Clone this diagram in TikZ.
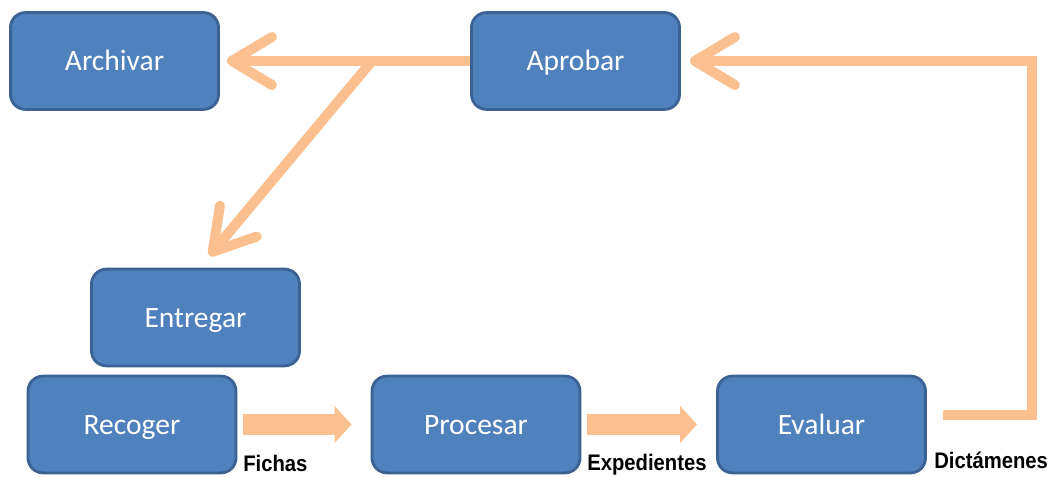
\documentclass[tikz,border=0pt]{standalone}
\usepackage{fontspec}
\setmainfont{Carlito}
\newfontfamily\tagfont[FakeStretch=0.9]{Liberation Sans}
\usetikzlibrary{arrows.meta}
\definecolor{boxblue}{HTML}{4F81BD}
\definecolor{boxedge}{HTML}{3A6294}
\definecolor{peach}{HTML}{FAC090}

\begin{document}
\begin{tikzpicture}[x=0.025cm,y=-0.025cm,
		box/.style={draw=boxedge,line width=2pt,fill=boxblue,rounded corners=0.375cm,minimum width=5.2cm,minimum height=2.42cm,text height=15pt,text depth=1pt,text=white,font=\fontsize{21}{25}\selectfont},
		flow/.style={draw=peach,line width=0.25cm,-{Straight Barb[length=1cm,width=1.2cm,round]}},
		fat/.style={draw=peach,line width=0.5cm,-{Triangle[length=0.425cm,width=0.9cm]}},
		tag/.style={inner sep=0pt,anchor=base west,font=\tagfont\bfseries\fontsize{16}{18}\selectfont}]
		\useasboundingbox (0,0) rectangle (1053,477);
		\foreach \name/\x/\y in {Archivar/114.5/61,Aprobar/575.5/61,Entregar/195.5/317.5,Recoger/132/424.5,Procesar/476/424.5,Evaluar/821.5/424.5} \node[box] (\name) at (\x,\y) {\name};
		\coordinate (split) at (372,61);
		\coordinate (turn) at (1032,61);
		\draw[flow] (Aprobar.west) -- ([xshift=0.175cm]Archivar.east);
		\draw[flow] (split) -- ([xshift=0.35cm,yshift=0.3cm]Entregar.north);
		\draw[flow] ([xshift=0.4cm,yshift=0.24cm]Evaluar.east) -| (turn) -- ([xshift=0.225cm]Aprobar.east);
		\draw[fat,shorten <=0.15cm,shorten >=0.475cm] (Recoger.east) -- (Procesar.west);
		\draw[fat,shorten <=0.15cm,shorten >=0.475cm] (Procesar.east) -- (Evaluar.west);
		\foreach \name/\x/\y/\txt in {fichas/243/472/Fichas,expedientes/587/471/Expedientes,dictamenes/934/469/Dictámenes} \node[tag] (\name) at (\x,\y) {\txt};
	\end{tikzpicture}
\end{document}
